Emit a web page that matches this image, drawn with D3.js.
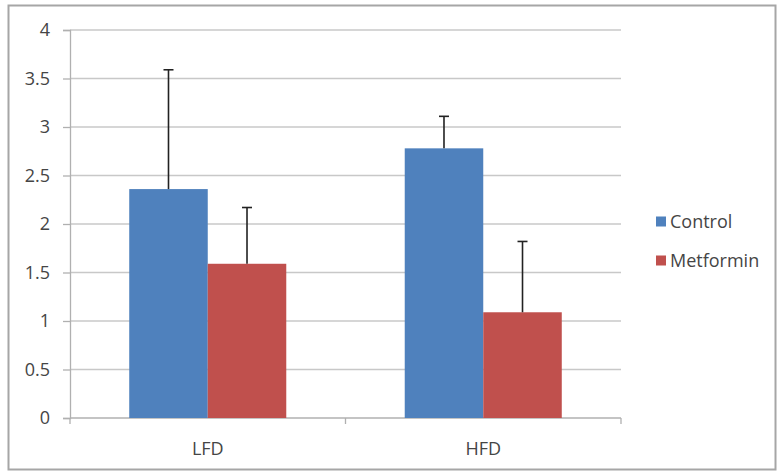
<!DOCTYPE html>
<html><head><meta charset="utf-8">
<script src="https://cdn.jsdelivr.net/npm/d3@7"></script>
<style>body{margin:0;background:#fff}svg{display:block}</style>
</head><body><svg id="c" width="781" height="472"></svg>
<script>
const categories = ["LFD", "HFD"];
const seriesNames = ["Control", "Metformin"];
const controlValues = [2.36, 2.78];
const controlErrors = [1.23, 0.33];
const metforminValues = [1.59, 1.09];
const metforminErrors = [0.58, 0.73];
const yTicks = [0, 0.5, 1, 1.5, 2, 2.5, 3, 3.5, 4];
const colors = ["#4F81BD", "#C0504D"];

const svg = d3.select("#c");
const font = "'Open Sans', 'Liberation Sans', sans-serif";
svg.append("rect").attr("x", 8.5).attr("y", 5.5).attr("width", 767).attr("height", 464)
  .attr("fill", "#fff").attr("stroke", "#a6a6a6").attr("stroke-width", 2);

const L = 70, R = 621, T = 30, B = 418;
const x = d3.scaleBand().domain(categories).range([L, R]).paddingInner(0.43).paddingOuter(0.215);
const xs = d3.scaleBand().domain(seriesNames).range([0, x.bandwidth()]);
const y = d3.scaleLinear().domain([0, 4]).range([B, T]);

// gridlines
svg.append("g").selectAll("line").data(yTicks.filter(d => d > 0)).join("line")
  .attr("x1", L).attr("x2", R).attr("y1", d => y(d)).attr("y2", d => y(d))
  .attr("stroke", "#c8c8c8").attr("stroke-width", 1.3);

// y axis
const ya = svg.append("g").attr("transform", `translate(${L},0)`)
  .call(d3.axisLeft(y).tickValues(yTicks).tickFormat(d3.format("")).tickSize(7).tickPadding(13));
ya.select(".domain").attr("stroke", "#b0b0b0").attr("stroke-width", 1.3);
ya.selectAll(".tick line").attr("stroke", "#b0b0b0").attr("stroke-width", 1.3);
ya.selectAll("text").attr("font-family", font).attr("font-size", 18).attr("font-weight", 500).attr("fill", "#454545");

// x axis
const xa = svg.append("g").attr("transform", `translate(0,${B})`);
xa.append("line").attr("x1", L).attr("x2", R).attr("stroke", "#b0b0b0").attr("stroke-width", 1.3);
const bounds = [L, (x("LFD") + x.bandwidth() + x("HFD")) / 2, R];
xa.selectAll("line.t").data(bounds).join("line").attr("class", "t")
  .attr("x1", d => d).attr("x2", d => d).attr("y1", 0).attr("y2", 6)
  .attr("stroke", "#b0b0b0").attr("stroke-width", 1.3);
xa.selectAll("text").data(categories).join("text")
  .attr("x", d => x(d) + x.bandwidth() / 2).attr("y", 37)
  .attr("text-anchor", "middle").attr("font-family", font).attr("font-size", 18).attr("font-weight", 500).attr("fill", "#454545")
  .text(d => d);

const data = [];
categories.forEach((c, i) => {
  data.push({ c, s: "Control", v: controlValues[i], e: controlErrors[i], col: colors[0] });
  data.push({ c, s: "Metformin", v: metforminValues[i], e: metforminErrors[i], col: colors[1] });
});

svg.append("g").selectAll("rect").data(data).join("rect")
  .attr("x", d => x(d.c) + xs(d.s)).attr("width", xs.bandwidth())
  .attr("y", d => y(d.v)).attr("height", d => B - y(d.v)).attr("fill", d => d.col);

const eb = svg.append("g").attr("stroke", "#222").attr("stroke-width", 1.6);
data.forEach(d => {
  const cx = x(d.c) + xs(d.s) + xs.bandwidth() / 2;
  eb.append("line").attr("x1", cx).attr("x2", cx).attr("y1", y(d.v)).attr("y2", y(d.v + d.e));
  eb.append("line").attr("x1", cx - 5).attr("x2", cx + 5).attr("y1", y(d.v + d.e)).attr("y2", y(d.v + d.e));
});

// legend
const lg = svg.append("g").attr("transform", "translate(656,0)");
seriesNames.forEach((s, i) => {
  const cy = 221.5 + i * 39;
  lg.append("rect").attr("x", 0).attr("y", cy - 5).attr("width", 10).attr("height", 10).attr("fill", colors[i]);
  lg.append("text").attr("x", 14).attr("y", cy + 6).attr("font-family", font).attr("font-size", 18)
    .attr("font-weight", 500).attr("fill", "#454545").text(s);
});
</script></body></html>
